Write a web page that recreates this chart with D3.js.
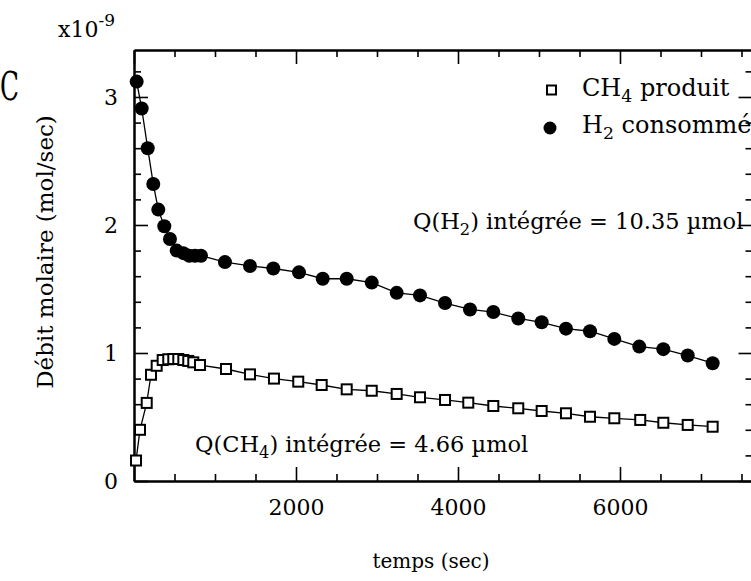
<!DOCTYPE html>
<html>
<head>
<meta charset="utf-8">
<script src="https://cdn.jsdelivr.net/npm/d3@7"></script>
<style>
  html, body { margin: 0; padding: 0; background: #fff; }
  svg { display: block; }
  text { font-family: "DejaVu Serif", "Liberation Serif", serif; fill: #000; }
</style>
</head>
<body>
<svg id="chart" width="751" height="581"></svg>
<script>
// ---- data ----
const h2Time = [33, 95, 169, 238, 300, 374, 444, 527, 609, 683, 753, 827,
  1123, 1432, 1720, 2037, 2330, 2626, 2935, 3243, 3531, 3840, 4148, 4436,
  4744, 5033, 5333, 5630, 5930, 6238, 6535, 6836, 7144];
const h2Rate = [3.12, 2.91, 2.60, 2.32, 2.12, 1.99, 1.89, 1.80, 1.78, 1.76, 1.76, 1.76,
  1.71, 1.68, 1.66, 1.63, 1.58, 1.58, 1.55, 1.47, 1.45, 1.39, 1.34, 1.32,
  1.27, 1.24, 1.19, 1.17, 1.11, 1.05, 1.03, 0.98, 0.92];
const ch4Time = [25, 74, 157, 210, 280, 354, 423, 485, 547, 609, 670, 732, 815,
  1136, 1432, 1728, 2028, 2317, 2626, 2935, 3243, 3531, 3840, 4127, 4436,
  4744, 5033, 5333, 5630, 5930, 6250, 6535, 6836, 7144];
const ch4Rate = [0.16, 0.40, 0.61, 0.83, 0.90, 0.945, 0.951, 0.953, 0.953, 0.945, 0.938, 0.927, 0.906,
  0.875, 0.833, 0.80, 0.776, 0.75, 0.716, 0.705, 0.68, 0.654, 0.633, 0.612, 0.586,
  0.568, 0.547, 0.529, 0.502, 0.49, 0.477, 0.455, 0.438, 0.424];

const xMajorTicks = [0, 2000, 4000, 6000];
const xTickLabels = ["", "2000", "4000", "6000"];
const xMinorTicks = [500, 1000, 1500, 2500, 3000, 3500, 4500, 5000, 5500, 6500, 7000, 7500];
const yMajorTicks = [0, 1, 2, 3];
const yTickLabels = ["0", "1", "2", "3"];
const yMinorTicks = [0.2, 0.4, 0.6, 0.8, 1.2, 1.4, 1.6, 1.8, 2.2, 2.4, 2.6, 2.8, 3.2];

const legendLabels = [["CH", "4", " produit"], ["H", "2", " consommé"]];

// ---- layout ----
const svg = d3.select("#chart");
const L = 134, R = 752.5, T = 50, B = 481;
const x = d3.scaleLinear().domain([0, 7636]).range([L, R]);
const y = d3.scaleLinear().domain([0, 3.367]).range([B, T]);

const FS = 22;

function styleAxis(g) {
  g.selectAll("path.domain").attr("stroke", "#000").attr("stroke-width", 2);
  g.selectAll(".tick line").attr("stroke", "#000").attr("stroke-width", 1.6);
  g.selectAll(".tick text").attr("font-family", "DejaVu Serif, serif").attr("font-size", FS).attr("fill", "#000");
}

// bottom axis
const gB = svg.append("g").attr("transform", `translate(0,${B})`)
  .call(d3.axisBottom(x).tickValues(xMajorTicks).tickSizeInner(-14).tickSizeOuter(0)
    .tickPadding(18).tickFormat((d, i) => xTickLabels[i]));
styleAxis(gB);
const gBm = svg.append("g").attr("transform", `translate(0,${B})`)
  .call(d3.axisBottom(x).tickValues(xMinorTicks).tickSizeInner(-7).tickSizeOuter(0).tickFormat(""));
styleAxis(gBm);

// top axis
const gT = svg.append("g").attr("transform", `translate(0,${T})`)
  .call(d3.axisTop(x).tickValues(xMajorTicks).tickSizeInner(-14).tickSizeOuter(0).tickFormat(""));
styleAxis(gT);
const gTm = svg.append("g").attr("transform", `translate(0,${T})`)
  .call(d3.axisTop(x).tickValues(xMinorTicks).tickSizeInner(-7).tickSizeOuter(0).tickFormat(""));
styleAxis(gTm);

// left axis
const gL = svg.append("g").attr("transform", `translate(${L},0)`)
  .call(d3.axisLeft(y).tickValues(yMajorTicks).tickSizeInner(-14).tickSizeOuter(0)
    .tickPadding(16).tickFormat((d, i) => yTickLabels[i]));
styleAxis(gL);
const gLm = svg.append("g").attr("transform", `translate(${L},0)`)
  .call(d3.axisLeft(y).tickValues(yMinorTicks).tickSizeInner(-7).tickSizeOuter(0).tickFormat(""));
styleAxis(gLm);

// right axis (its line falls just outside the picture)
const gR = svg.append("g").attr("transform", `translate(${R},0)`)
  .call(d3.axisRight(y).tickValues(yMajorTicks).tickSizeInner(-14).tickSizeOuter(0).tickFormat(""));
styleAxis(gR);
const gRm = svg.append("g").attr("transform", `translate(${R},0)`)
  .call(d3.axisRight(y).tickValues(yMinorTicks).tickSizeInner(-7).tickSizeOuter(0).tickFormat(""));
styleAxis(gRm);

// ---- series ----
const h2 = h2Time.map((t, i) => [t, h2Rate[i]]);
const ch4 = ch4Time.map((t, i) => [t, ch4Rate[i]]);
const line = d3.line().x(d => x(d[0])).y(d => y(d[1]));

svg.append("path").datum(ch4).attr("d", line)
  .attr("fill", "none").attr("stroke", "#000").attr("stroke-width", 1.3);
svg.append("path").datum(h2).attr("d", line)
  .attr("fill", "none").attr("stroke", "#000").attr("stroke-width", 1.3);

const SQ = 10;
svg.append("g").selectAll("rect").data(ch4).join("rect")
  .attr("x", d => x(d[0]) - SQ / 2).attr("y", d => y(d[1]) - SQ / 2)
  .attr("width", SQ).attr("height", SQ)
  .attr("fill", "#fff").attr("stroke", "#000").attr("stroke-width", 2);

svg.append("g").selectAll("circle").data(h2).join("circle")
  .attr("cx", d => x(d[0])).attr("cy", d => y(d[1])).attr("r", 7)
  .attr("fill", "#000");

// ---- legend ----
svg.append("rect").attr("x", 547).attr("y", 85.5).attr("width", 9).attr("height", 9)
  .attr("fill", "#fff").attr("stroke", "#000").attr("stroke-width", 2);
svg.append("circle").attr("cx", 550).attr("cy", 128).attr("r", 6.5).attr("fill", "#000");

function subText(xp, yp, parts, fs) {
  const f = fs || FS;
  const t = svg.append("text").attr("x", xp).attr("y", yp).attr("font-size", f);
  t.append("tspan").text(parts[0]);
  t.append("tspan").attr("dy", 6).attr("font-size", f * 0.72).text(parts[1]);
  t.append("tspan").attr("dy", -6).text(parts[2]);
  return t;
}
subText(582, 96, legendLabels[0], 24);
subText(582, 133, legendLabels[1], 24);

// annotations
subText(413, 229, ["Q(H", "2", ") intégrée = 10.35 µmol"], 22.5);
subText(195, 452, ["Q(CH", "4", ") intégrée = 4.66 µmol"], 22.5);

// axis titles
svg.append("text").attr("x", 431).attr("y", 568).attr("text-anchor", "middle")
  .attr("font-size", 20).text("temps (sec)");
svg.append("text").attr("transform", "translate(53,252) rotate(-90)")
  .attr("text-anchor", "middle").attr("font-size", 23).text("Débit molaire (mol/sec)");

// exponent
const ex = svg.append("text").attr("x", 58).attr("y", 37).attr("font-size", 22);
ex.append("tspan").text("x10");
ex.append("tspan").attr("dy", -11).attr("font-size", 17).text("-9");

// fragment at left edge
svg.append("text").attr("transform", "translate(0,100) scale(0.62,1)")
  .attr("font-size", 40).text("C");
</script>
</body>
</html>
